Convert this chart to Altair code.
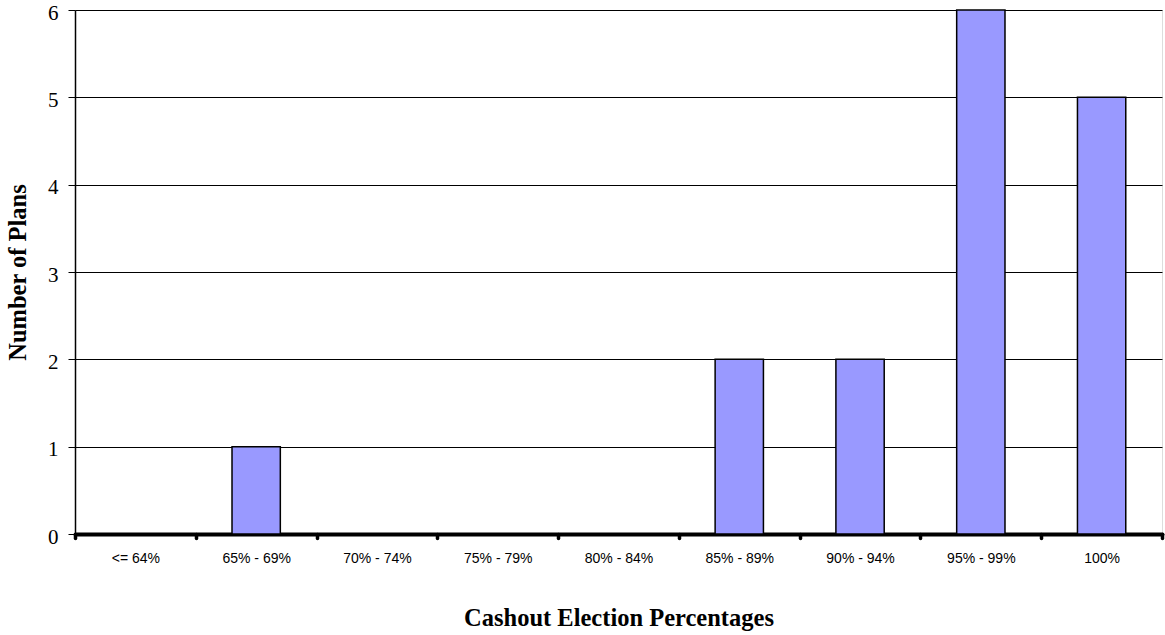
import altair as alt
import pandas as pd

# Histogram of plan cashout election rates
categories = ["<= 64%", "65% - 69%", "70% - 74%", "75% - 79%", "80% - 84%",
              "85% - 89%", "90% - 94%", "95% - 99%", "100%"]
plans = [0, 1, 0, 0, 0, 2, 2, 6, 5]

df = pd.DataFrame({"range": categories, "plans": plans})

serif = "Liberation Serif"
sans = "Liberation Sans"

bars = alt.Chart(df).mark_bar(
    color="#9999FF", stroke="black", strokeWidth=1.5,
    width=alt.RelativeBandSize(0.4),
).encode(
    x=alt.X(
        "range:N",
        sort=categories,
        scale=alt.Scale(paddingInner=0, paddingOuter=0),
        axis=alt.Axis(
            title="Cashout Election Percentages",
            titleFont=serif, titleFontSize=24.5, titleFontWeight="bold",
            titleColor="black", titlePadding=41,
            labelFont=sans, labelFontSize=14, labelColor="black",
            labelAngle=0, labelPadding=13,
            tickBand="extent", tickSize=4, tickWidth=3.5, tickCap="round",
            tickColor="black",
            domainColor="black", domainWidth=4, domainCap="round",
            grid=False,
        ),
    ),
    y=alt.Y(
        "plans:Q",
        scale=alt.Scale(domain=[0, 6], nice=False),
        axis=alt.Axis(
            title="Number of Plans",
            titleFont=serif, titleFontSize=24.5, titleFontWeight="bold",
            titleColor="black", titlePadding=17,
            labelFont=serif, labelFontSize=21, labelColor="black",
            labelPadding=10, labelOffset=3,
            values=[0, 1, 2, 3, 4, 5, 6], format="d",
            tickSize=7, tickColor="black", tickWidth=1,
            domainColor="black", domainWidth=1.5,
            grid=True, gridColor="black", gridWidth=1,
        ),
    ),
)

chart = bars.properties(
    width=1087,
    height=524,
    autosize=alt.AutoSizeParams(type="none"),
    padding={"left": 75, "top": 10, "right": 3, "bottom": 101},
).configure_view(
    stroke="#888888", strokeWidth=1.5
).configure(background="white")

chart.save("out.html", embed_options={"renderer": "svg", "actions": False})
